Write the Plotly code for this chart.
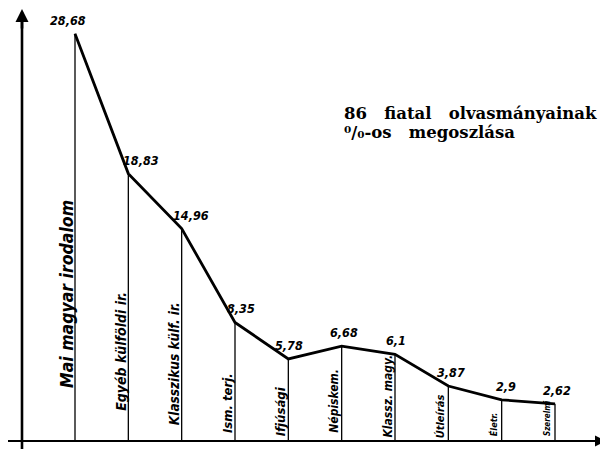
import plotly.graph_objects as go

categories = ["Mai magyar irodalom", "Egyéb külföldi ir.", "Klasszikus külf. ir.",
              "Ism. terj.", "Ifjúsági", "Népiskem.", "Klassz. magy.",
              "Útleírás", "Életr.", "Szerelmi"]
values = [28.68, 18.83, 14.96, 8.35, 5.78, 6.68, 6.1, 3.87, 2.9, 2.62]
value_labels = ["28,68", "18,83", "14,96", "8,35", "5,78", "6,68", "6,1", "3,87", "2,9", "2,62"]
title_lines = ["86\u00a0\u00a0\u00a0fiatal\u00a0\u00a0\u00a0olvasmányainak",
               "\u2070/\u2080-os\u00a0\u00a0\u00a0megoszlása"]

# style lists (not data)
cat_font_sizes = [17.5, 14, 13.5, 13, 13, 12, 12, 11, 9, 8]
cat_yshift = [51, 28, 14, 6, 3, 6, 1, 1, 3, 3]
val_xshift = [-7, 13, 9, 6, 1, 2, 1, 3, 4, 2]

OFF = 8  # page body margin
W, H = 600, 441
n = len(categories)
xs = list(range(n))


def px(sx):
    return (sx - OFF) / W


def py(sy):
    return 1 - (sy - OFF) / H


fig = go.Figure()

# vertical drop lines
dx, dy = [], []
for i, v in zip(xs, values):
    dx += [i, i, None]
    dy += [0, v, None]
fig.add_trace(go.Scatter(x=dx, y=dy, mode="lines",
                         line=dict(color="black", width=1.3),
                         hoverinfo="skip", showlegend=False))
# main line
fig.add_trace(go.Scatter(x=xs, y=values, mode="lines",
                         line=dict(color="black", width=2.8),
                         showlegend=False))

hand = dict(family="DejaVu Sans Condensed", color="black", weight="bold", style="italic")

for i, (lab, v) in enumerate(zip(value_labels, values)):
    fig.add_annotation(x=i, y=v, xref="x", yref="y", text=lab, showarrow=False,
                       xanchor="center", yanchor="bottom", xshift=val_xshift[i], yshift=4,
                       font=dict(size=12.5, **hand))

for i, lab in enumerate(categories):
    fig.add_annotation(x=i, y=0, xref="x", yref="y", text=lab, showarrow=False,
                       textangle=-90, xanchor="center", yanchor="bottom",
                       xshift=-8, yshift=cat_yshift[i],
                       font=dict(size=cat_font_sizes[i], **hand))

# axes drawn by hand
fig.add_shape(type="line", xref="paper", yref="y", x0=px(8), x1=px(600), y0=0, y1=0,
              line=dict(color="black", width=2.2))
fig.add_shape(type="line", xref="paper", yref="paper", x0=px(22), x1=px(22),
              y0=0, y1=py(14), line=dict(color="black", width=2.6))
fig.add_annotation(xref="paper", yref="y", x=px(606), y=0, ax=-22, ay=0, text="",
                   showarrow=True, arrowhead=2, arrowsize=1, arrowwidth=2.2, arrowcolor="black")
fig.add_annotation(xref="paper", yref="paper", x=px(22), y=py(8), ax=0, ay=22, text="",
                   showarrow=True, arrowhead=2, arrowsize=1, arrowwidth=2.6, arrowcolor="black")

# title text
for k, line in enumerate(title_lines):
    fig.add_annotation(xref="paper", yref="paper", x=px(342), y=py(113 + 19 * k),
                       text=line, showarrow=False, xanchor="left", yanchor="middle",
                       font=dict(family="DejaVu Serif", size=16.5, color="black", weight="bold"))

spacing = 480 / 9
x0 = -(75 - OFF) / spacing
x1 = x0 + W / spacing
ppu = 14.2
y0 = -(OFF + H - 441) / ppu
y1 = y0 + H / ppu

fig.update_layout(
    width=W, height=H, margin=dict(l=0, r=0, t=0, b=0),
    paper_bgcolor="white", plot_bgcolor="white",
    xaxis=dict(visible=False, range=[x0, x1]),
    yaxis=dict(visible=False, range=[y0, y1]),
)

fig.write_html("out.html")
